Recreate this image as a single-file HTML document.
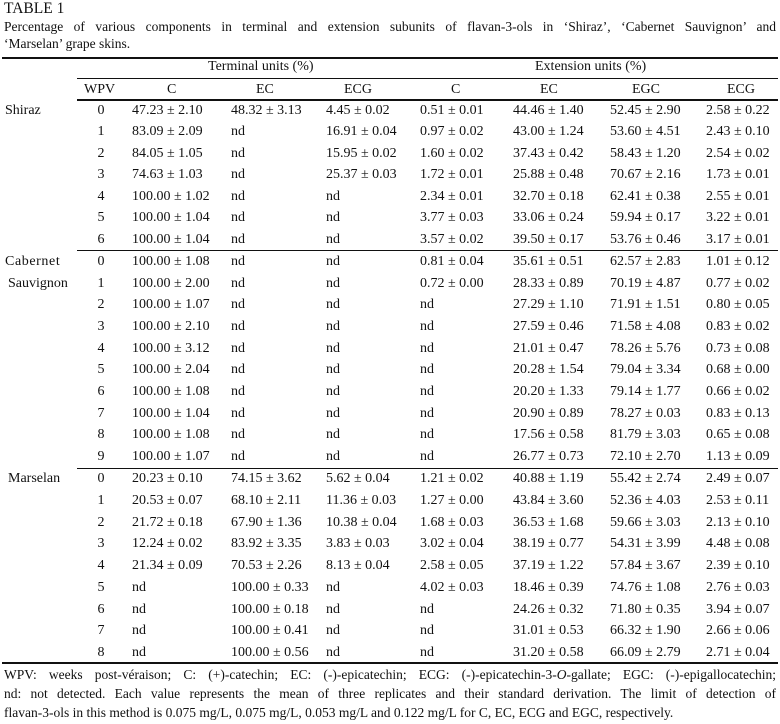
<!DOCTYPE html>
<html><head><meta charset="utf-8"><style>
body{margin:0;width:780px;height:724px;background:#fff;position:relative;overflow:hidden;font-family:"Liberation Serif",serif;font-size:14px;color:#111}
div,span{position:absolute;white-space:nowrap;line-height:18px}
.r span{top:0}
.hl{background:#111;height:1px}
.a{left:5px}.w{left:95px;width:12px;text-align:center}
.c1{left:132px}.c2{left:231px}.c3{left:326px}.c4{left:420px}.c5{left:513px}.c6{left:610px}.c7{left:706px}
.ft{left:4px;width:772px;text-align:justify;text-align-last:justify;font-size:13.5px}
</style></head><body>
<div style="left:4px;top:0px;font-size:15.5px">TABLE 1</div>
<div style="left:4px;top:18px;width:772px;text-align:justify;text-align-last:justify;font-size:13.5px">Percentage of various components in terminal and extension subunits of flavan-3-ols in ‘Shiraz’, ‘Cabernet Sauvignon’ and</div>
<div style="left:4px;top:35px;font-size:13.5px">‘Marselan’ grape skins.</div>
<div class="hl" style="left:2px;top:57px;width:776px;height:2px"></div>
<div style="left:208px;top:58px">Terminal units (%)</div>
<div style="left:535px;top:58px">Extension units (%)</div>
<div class="hl" style="left:77px;top:78px;width:701px"></div>
<div class="r" style="left:0;top:81px;width:780px"><span style="left:84px">WPV</span><span style="left:167px">C</span><span style="left:256px">EC</span><span style="left:344px">ECG</span><span style="left:451px">C</span><span style="left:540px">EC</span><span style="left:632px">EGC</span><span style="left:727px">ECG</span></div>
<div class="hl" style="left:77px;top:99px;width:701px;height:2px"></div>

<div class="r" style="top:102px;left:0"><span class="a">Shiraz</span><span class="w">0</span><span class="c1">47.23 ± 2.10</span><span class="c2">48.32 ± 3.13</span><span class="c3">4.45 ± 0.02</span><span class="c4">0.51 ± 0.01</span><span class="c5">44.46 ± 1.40</span><span class="c6">52.45 ± 2.90</span><span class="c7">2.58 ± 0.22</span></div>
<div class="r" style="top:123px;left:0"><span class="w">1</span><span class="c1">83.09 ± 2.09</span><span class="c2">nd</span><span class="c3">16.91 ± 0.04</span><span class="c4">0.97 ± 0.02</span><span class="c5">43.00 ± 1.24</span><span class="c6">53.60 ± 4.51</span><span class="c7">2.43 ± 0.10</span></div>
<div class="r" style="top:145px;left:0"><span class="w">2</span><span class="c1">84.05 ± 1.05</span><span class="c2">nd</span><span class="c3">15.95 ± 0.02</span><span class="c4">1.60 ± 0.02</span><span class="c5">37.43 ± 0.42</span><span class="c6">58.43 ± 1.20</span><span class="c7">2.54 ± 0.02</span></div>
<div class="r" style="top:166px;left:0"><span class="w">3</span><span class="c1">74.63 ± 1.03</span><span class="c2">nd</span><span class="c3">25.37 ± 0.03</span><span class="c4">1.72 ± 0.01</span><span class="c5">25.88 ± 0.48</span><span class="c6">70.67 ± 2.16</span><span class="c7">1.73 ± 0.01</span></div>
<div class="r" style="top:188px;left:0"><span class="w">4</span><span class="c1">100.00 ± 1.02</span><span class="c2">nd</span><span class="c3">nd</span><span class="c4">2.34 ± 0.01</span><span class="c5">32.70 ± 0.18</span><span class="c6">62.41 ± 0.38</span><span class="c7">2.55 ± 0.01</span></div>
<div class="r" style="top:209px;left:0"><span class="w">5</span><span class="c1">100.00 ± 1.04</span><span class="c2">nd</span><span class="c3">nd</span><span class="c4">3.77 ± 0.03</span><span class="c5">33.06 ± 0.24</span><span class="c6">59.94 ± 0.17</span><span class="c7">3.22 ± 0.01</span></div>
<div class="r" style="top:231px;left:0"><span class="w">6</span><span class="c1">100.00 ± 1.04</span><span class="c2">nd</span><span class="c3">nd</span><span class="c4">3.57 ± 0.02</span><span class="c5">39.50 ± 0.17</span><span class="c6">53.76 ± 0.46</span><span class="c7">3.17 ± 0.01</span></div>
<div class="hl" style="left:77px;top:250px;width:701px"></div>

<div class="r" style="top:253px;left:0"><span class="a" style="letter-spacing:0.6px">Cabernet</span><span class="w">0</span><span class="c1">100.00 ± 1.08</span><span class="c2">nd</span><span class="c3">nd</span><span class="c4">0.81 ± 0.04</span><span class="c5">35.61 ± 0.51</span><span class="c6">62.57 ± 2.83</span><span class="c7">1.01 ± 0.12</span></div>
<div class="r" style="top:275px;left:0"><span class="a" style="left:8px">Sauvignon</span><span class="w">1</span><span class="c1">100.00 ± 2.00</span><span class="c2">nd</span><span class="c3">nd</span><span class="c4">0.72 ± 0.00</span><span class="c5">28.33 ± 0.89</span><span class="c6">70.19 ± 4.87</span><span class="c7">0.77 ± 0.02</span></div>
<div class="r" style="top:296px;left:0"><span class="w">2</span><span class="c1">100.00 ± 1.07</span><span class="c2">nd</span><span class="c3">nd</span><span class="c4">nd</span><span class="c5">27.29 ± 1.10</span><span class="c6">71.91 ± 1.51</span><span class="c7">0.80 ± 0.05</span></div>
<div class="r" style="top:318px;left:0"><span class="w">3</span><span class="c1">100.00 ± 2.10</span><span class="c2">nd</span><span class="c3">nd</span><span class="c4">nd</span><span class="c5">27.59 ± 0.46</span><span class="c6">71.58 ± 4.08</span><span class="c7">0.83 ± 0.02</span></div>
<div class="r" style="top:340px;left:0"><span class="w">4</span><span class="c1">100.00 ± 3.12</span><span class="c2">nd</span><span class="c3">nd</span><span class="c4">nd</span><span class="c5">21.01 ± 0.47</span><span class="c6">78.26 ± 5.76</span><span class="c7">0.73 ± 0.08</span></div>
<div class="r" style="top:361px;left:0"><span class="w">5</span><span class="c1">100.00 ± 2.04</span><span class="c2">nd</span><span class="c3">nd</span><span class="c4">nd</span><span class="c5">20.28 ± 1.54</span><span class="c6">79.04 ± 3.34</span><span class="c7">0.68 ± 0.00</span></div>
<div class="r" style="top:383px;left:0"><span class="w">6</span><span class="c1">100.00 ± 1.08</span><span class="c2">nd</span><span class="c3">nd</span><span class="c4">nd</span><span class="c5">20.20 ± 1.33</span><span class="c6">79.14 ± 1.77</span><span class="c7">0.66 ± 0.02</span></div>
<div class="r" style="top:405px;left:0"><span class="w">7</span><span class="c1">100.00 ± 1.04</span><span class="c2">nd</span><span class="c3">nd</span><span class="c4">nd</span><span class="c5">20.90 ± 0.89</span><span class="c6">78.27 ± 0.03</span><span class="c7">0.83 ± 0.13</span></div>
<div class="r" style="top:426px;left:0"><span class="w">8</span><span class="c1">100.00 ± 1.08</span><span class="c2">nd</span><span class="c3">nd</span><span class="c4">nd</span><span class="c5">17.56 ± 0.58</span><span class="c6">81.79 ± 3.03</span><span class="c7">0.65 ± 0.08</span></div>
<div class="r" style="top:448px;left:0"><span class="w">9</span><span class="c1">100.00 ± 1.07</span><span class="c2">nd</span><span class="c3">nd</span><span class="c4">nd</span><span class="c5">26.77 ± 0.73</span><span class="c6">72.10 ± 2.70</span><span class="c7">1.13 ± 0.09</span></div>
<div class="hl" style="left:77px;top:468px;width:701px"></div>

<div class="r" style="top:470px;left:0"><span class="a" style="left:8px">Marselan</span><span class="w">0</span><span class="c1">20.23 ± 0.10</span><span class="c2">74.15 ± 3.62</span><span class="c3">5.62 ± 0.04</span><span class="c4">1.21 ± 0.02</span><span class="c5">40.88 ± 1.19</span><span class="c6">55.42 ± 2.74</span><span class="c7">2.49 ± 0.07</span></div>
<div class="r" style="top:492px;left:0"><span class="w">1</span><span class="c1">20.53 ± 0.07</span><span class="c2">68.10 ± 2.11</span><span class="c3">11.36 ± 0.03</span><span class="c4">1.27 ± 0.00</span><span class="c5">43.84 ± 3.60</span><span class="c6">52.36 ± 4.03</span><span class="c7">2.53 ± 0.11</span></div>
<div class="r" style="top:514px;left:0"><span class="w">2</span><span class="c1">21.72 ± 0.18</span><span class="c2">67.90 ± 1.36</span><span class="c3">10.38 ± 0.04</span><span class="c4">1.68 ± 0.03</span><span class="c5">36.53 ± 1.68</span><span class="c6">59.66 ± 3.03</span><span class="c7">2.13 ± 0.10</span></div>
<div class="r" style="top:535px;left:0"><span class="w">3</span><span class="c1">12.24 ± 0.02</span><span class="c2">83.92 ± 3.35</span><span class="c3">3.83 ± 0.03</span><span class="c4">3.02 ± 0.04</span><span class="c5">38.19 ± 0.77</span><span class="c6">54.31 ± 3.99</span><span class="c7">4.48 ± 0.08</span></div>
<div class="r" style="top:557px;left:0"><span class="w">4</span><span class="c1">21.34 ± 0.09</span><span class="c2">70.53 ± 2.26</span><span class="c3">8.13 ± 0.04</span><span class="c4">2.58 ± 0.05</span><span class="c5">37.19 ± 1.22</span><span class="c6">57.84 ± 3.67</span><span class="c7">2.39 ± 0.10</span></div>
<div class="r" style="top:579px;left:0"><span class="w">5</span><span class="c1">nd</span><span class="c2">100.00 ± 0.33</span><span class="c3">nd</span><span class="c4">4.02 ± 0.03</span><span class="c5">18.46 ± 0.39</span><span class="c6">74.76 ± 1.08</span><span class="c7">2.76 ± 0.03</span></div>
<div class="r" style="top:601px;left:0"><span class="w">6</span><span class="c1">nd</span><span class="c2">100.00 ± 0.18</span><span class="c3">nd</span><span class="c4">nd</span><span class="c5">24.26 ± 0.32</span><span class="c6">71.80 ± 0.35</span><span class="c7">3.94 ± 0.07</span></div>
<div class="r" style="top:622px;left:0"><span class="w">7</span><span class="c1">nd</span><span class="c2">100.00 ± 0.41</span><span class="c3">nd</span><span class="c4">nd</span><span class="c5">31.01 ± 0.53</span><span class="c6">66.32 ± 1.90</span><span class="c7">2.66 ± 0.06</span></div>
<div class="r" style="top:644px;left:0"><span class="w">8</span><span class="c1">nd</span><span class="c2">100.00 ± 0.56</span><span class="c3">nd</span><span class="c4">nd</span><span class="c5">31.20 ± 0.58</span><span class="c6">66.09 ± 2.79</span><span class="c7">2.71 ± 0.04</span></div>
<div class="hl" style="left:2px;top:662px;width:776px;height:2px"></div>

<div class="ft" style="top:666px">WPV: weeks post-véraison; C: (+)-catechin; EC: (-)-epicatechin; ECG: (-)-epicatechin-3-<i>O</i>-gallate; EGC: (-)-epigallocatechin;</div>
<div class="ft" style="top:685px">nd: not detected. Each value represents the mean of three replicates and their standard derivation. The limit of detection of</div>
<div style="left:4px;top:704px;font-size:13.5px">flavan-3-ols in this method is 0.075 mg/L, 0.075 mg/L, 0.053 mg/L and 0.122 mg/L for C, EC, ECG and EGC, respectively.</div>
</body></html>
